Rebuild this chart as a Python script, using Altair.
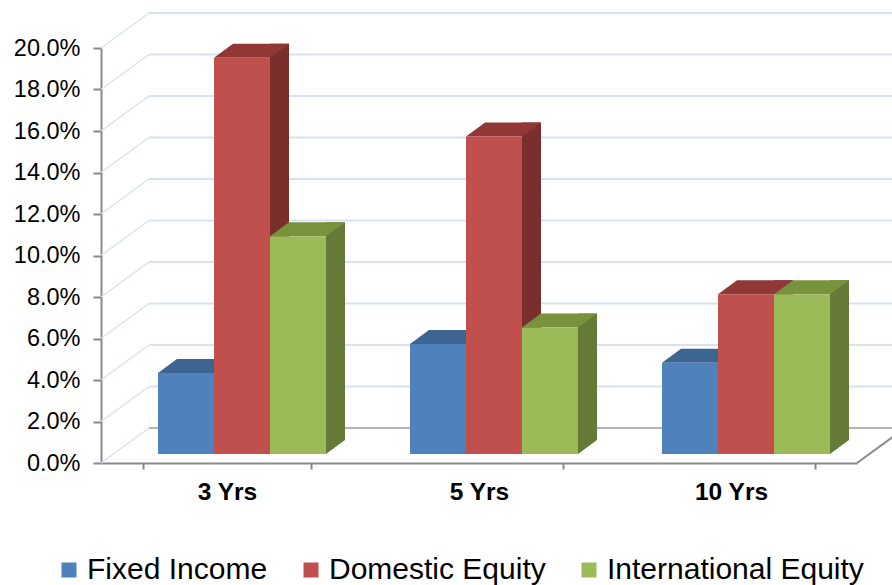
import altair as alt
import pandas as pd

# ---- data ----
PERIODS = ["3 Yrs", "5 Yrs", "10 Yrs"]
SERIES = ["Fixed Income", "Domestic Equity", "International Equity"]
FIXED_INCOME = [3.9, 5.3, 4.4]
DOMESTIC_EQUITY = [19.1, 15.3, 7.7]
INTERNATIONAL_EQUITY = [10.5, 6.1, 7.7]
Y_TICKS = [0, 2, 4, 6, 8, 10, 12, 14, 16, 18, 20]

# ---- styles ----
FRONT = ["#4F81BD", "#C0504D", "#9BBB59"]
TOP = ["#3D6592", "#913836", "#77933C"]
SIDE = ["#375D8A", "#7B2F2D", "#657A36"]
GRID = "#D9E2F0"
WALL = "#B4B4B4"
AXIS = "#898989"
FONT = "Liberation Sans"

W, H = 756, 415          # plot area
DX, DY = 48, 35          # wall depth (px)
FX, FY = 15, 9           # bar front-face offset (px)
BX, BY = 19, 14          # bar depth (px)
GROUP = W / 3 * (2 / 3)  # group width (168)
SUB = GROUP / 3          # sub-band width (56)
HALF = SUB / 2

rows = []
for s, vals, top, side in zip(SERIES, [FIXED_INCOME, DOMESTIC_EQUITY, INTERNATIONAL_EQUITY], TOP, SIDE):
    for p, v in zip(PERIODS, vals):
        rows.append({"period": p, "series": s, "value": v, "top": top, "side": side})
df = pd.DataFrame(rows)
ticks = pd.DataFrame({"tick": Y_TICKS})

yscale = alt.Scale(domain=[0, 20], nice=False, zero=True)
yaxis = alt.Axis(values=Y_TICKS, labelExpr="format(datum.value, '.1f') + '%'",
                 labelFont=FONT, labelFontSize=23.5, labelColor="black", labelPadding=13,
                 tickSize=8, tickColor=AXIS, tickWidth=2, domainColor=AXIS, domainWidth=2,
                 grid=False, title=None)
xaxis = alt.Axis(title=None, labelAngle=0, labelFont=FONT, labelFontSize=24.5, labelFontWeight="bold",
                 labelColor="black", tickBand="extent", tickSize=6, tickColor=AXIS, tickWidth=2,
                 domainColor=AXIS, domainWidth=2, labelPadding=11, grid=False)
x_enc = alt.X("period:N", sort=PERIODS, scale=alt.Scale(paddingInner=1 / 3, paddingOuter=1 / 6), axis=xaxis)


def xo(shift):
    return alt.XOffset("series:N", sort=SERIES,
                       scale=alt.Scale(type="band", paddingInner=0, paddingOuter=0,
                                       range=[shift, shift + GROUP]))


# back wall horizontal gridlines
back = alt.Chart(ticks).mark_rule(yOffset=-DY, strokeWidth=2).encode(
    x=alt.value(DX), x2=alt.value(W + DX),
    y=alt.Y("tick:Q", scale=yscale, axis=yaxis),
    color=alt.condition("datum.tick == 0", alt.value(WALL), alt.value(GRID)),
)
# side wall diagonals
diag = alt.Chart(ticks).mark_rule(y2Offset=-DY, strokeWidth=1.5, color=GRID).encode(
    x=alt.value(0), x2=alt.value(DX),
    y=alt.Y("tick:Q", scale=yscale, axis=yaxis), y2="tick:Q",
)
# floor right edge
floor = alt.Chart(ticks).transform_filter("datum.tick == 0").mark_rule(
    y2Offset=-DY, strokeWidth=2, color=AXIS).encode(
    x=alt.value(W), x2=alt.value(W + DX),
    y=alt.Y("tick:Q", scale=yscale, axis=yaxis), y2="tick:Q",
)

# bar side faces: a BX-wide bar centred in a sub-band shifted so it sits right of the front face
side_shift = FX + SUB + BX / 2 - HALF
sides = alt.Chart(df).mark_bar(width=BX, yOffset=-(FY + BY), y2Offset=-(FY + BY), strokeWidth=0).encode(
    x=x_enc, xOffset=xo(side_shift),
    y=alt.Y("value:Q", scale=yscale, axis=yaxis),
    fill=alt.Fill("side:N", scale=None),
)
L, R = -HALF, HALF
# lower-left triangle completing the side face down to the front baseline
foot_path = f"M{R},{-FY}L{R},{-FY - BY - 1}L{R + BX},{-FY - BY - 1}L{R + BX},{-FY - BY}Z"
foot = alt.Chart(df).transform_calculate(zero="0").mark_point(
    shape=foot_path, size=4, filled=True, opacity=1, strokeWidth=0).encode(
    x=x_enc, xOffset=xo(FX),
    y=alt.Y("zero:Q", scale=yscale, axis=yaxis),
    fill=alt.Fill("side:N", scale=None),
)
top_path = f"M{L},{-FY}L{R},{-FY}L{R + BX},{-FY - BY}L{L + BX},{-FY - BY}Z"
tops = alt.Chart(df).mark_point(shape=top_path, size=4, filled=True, opacity=1, strokeWidth=0).encode(
    x=x_enc, xOffset=xo(FX),
    y=alt.Y("value:Q", scale=yscale, axis=yaxis),
    fill=alt.Fill("top:N", scale=None),
)
fronts = alt.Chart(df).mark_bar(yOffset=-FY, y2Offset=-FY, strokeWidth=0).encode(
    x=x_enc, xOffset=xo(FX),
    y=alt.Y("value:Q", scale=yscale, axis=yaxis),
    color=alt.Color("series:N", sort=SERIES, scale=alt.Scale(domain=SERIES, range=FRONT),
                    legend=alt.Legend(title=None, orient="none", legendX=-47, legendY=507,
                                      direction="horizontal", symbolType="square", symbolSize=225,
                                      symbolStrokeWidth=0, labelFont=FONT, labelFontSize=30,
                                      labelColor="black", labelLimit=500, labelOffset=3,
                                      columnPadding=28, padding=0)),
)

chart = alt.layer(back, diag, floor, sides, foot, tops, fronts).resolve_scale(
    xOffset="independent"
).properties(
    width=W, height=H,
    padding={"left": 101, "top": 48, "right": 35, "bottom": 122},
    autosize=alt.AutoSizeParams(type="none"),
).configure_view(strokeWidth=0)

chart.save("out.html", embed_options={"renderer": "svg", "actions": False})
